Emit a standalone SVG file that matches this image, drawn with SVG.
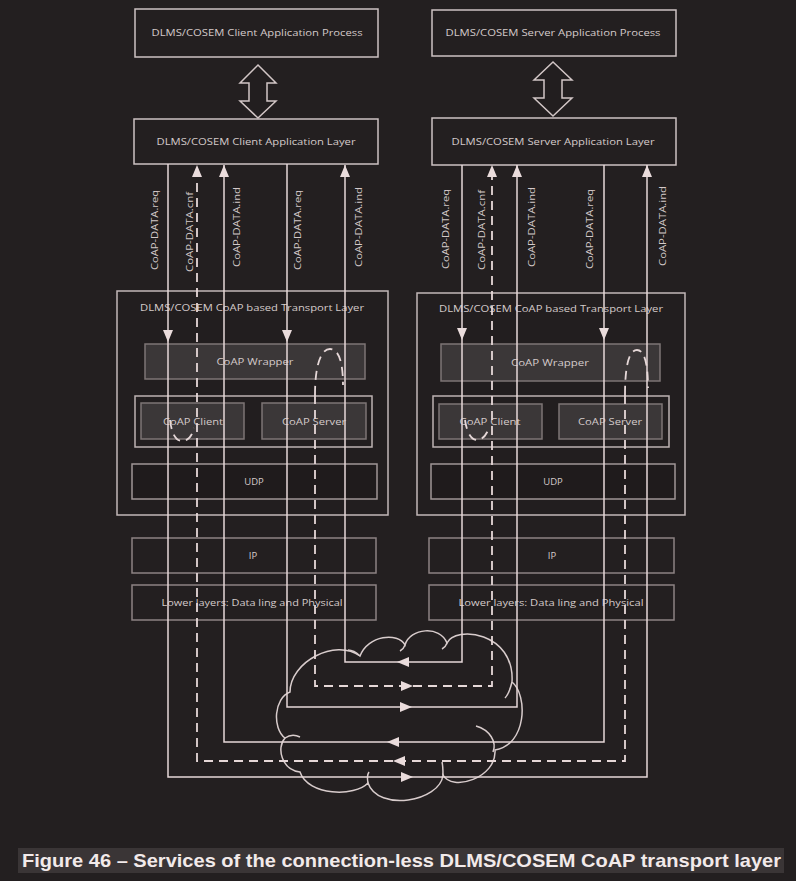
<svg xmlns="http://www.w3.org/2000/svg" width="796" height="881" viewBox="0 0 796 881">
<style>
.bx{fill:none;stroke:#cdc2c2;stroke-width:1.5}
.tl{fill:#221e1f;stroke:#c2b8b8;stroke-width:1.5}
.gr{fill:#3b3738;stroke:#7e7575;stroke-width:1.5}
.ct{fill:none;stroke:#bdb3b3;stroke-width:1.5}
.dk{fill:#1f1b1c;stroke:#a09696;stroke-width:1.5}
.ip{fill:none;stroke:#8d8383;stroke-width:1.5}
.t{font-family:"Open Sans","Liberation Sans",sans-serif;font-size:9.5px;fill:#d4caca;text-anchor:middle}
.lb{font-family:"Open Sans","Liberation Sans",sans-serif;font-size:9.5px;fill:#d4caca;text-anchor:middle}
.ln{fill:none;stroke:#e6d8d8;stroke-width:1.5}
.ds{fill:none;stroke:#e6d8d8;stroke-width:1.8;stroke-dasharray:9 6}
.dbl{fill:#221e1f;stroke:#d2c6c6;stroke-width:1.5}
.cl{fill:none;stroke:#d8cccc;stroke-width:1.5}
</style>
<defs>
<marker id="ah" viewBox="0 0 12 10" refX="12" refY="5" markerWidth="12" markerHeight="10" markerUnits="userSpaceOnUse" orient="auto">
<path d="M0,0 L12,5 L0,10 z" fill="#eadcdc"/>
</marker>
</defs>
<rect x="0" y="0" width="796" height="881" fill="#231f20"/>

<g id="client-process"><rect class="bx" x="135" y="9" width="243" height="48"/><text class="t" x="257" y="36" textLength="211" lengthAdjust="spacingAndGlyphs">DLMS/COSEM Client Application Process</text></g>
<g id="server-process"><rect class="bx" x="432" y="10" width="244" height="46"/><text class="t" x="553" y="36" textLength="215" lengthAdjust="spacingAndGlyphs">DLMS/COSEM Server Application Process</text></g>
<g id="client-dblarrow"><polygon class="dbl" points="258,65 276,83 267,83 267,101 276,101 258,118 240,101 249,101 249,83 240,83"/></g>
<g id="server-dblarrow"><polygon class="dbl" points="553,62 572,80 562,80 562,98 572,98 553,116 534,98 544,98 544,80 534,80"/></g>
<g id="client-al"><rect class="bx" x="134" y="119" width="244" height="45"/><text class="t" x="256" y="145" textLength="199" lengthAdjust="spacingAndGlyphs">DLMS/COSEM Client Application Layer</text></g>
<g id="server-al"><rect class="bx" x="432" y="118" width="244" height="47"/><text class="t" x="553" y="145" textLength="203" lengthAdjust="spacingAndGlyphs">DLMS/COSEM Server Application Layer</text></g>

<g id="client-transport">
<rect class="tl" x="117" y="291" width="271" height="224"/>
<text class="t" x="252" y="311" textLength="224" lengthAdjust="spacingAndGlyphs">DLMS/COSEM CoAP based Transport Layer</text>
</g>
<g id="client-wrapper"><rect class="gr" x="145" y="344" width="220" height="35"/><text class="t" x="255" y="365" textLength="77" lengthAdjust="spacingAndGlyphs">CoAP Wrapper</text></g>
<g id="client-coap-container"><rect class="ct" x="135" y="396" width="237" height="51"/></g>
<g id="client-coap-client"><rect class="gr" x="141" y="403" width="103" height="36"/><text class="t" x="193" y="425" textLength="60" lengthAdjust="spacingAndGlyphs">CoAP Client</text></g>
<g id="client-coap-server"><rect class="gr" x="262" y="403" width="104" height="36"/><text class="t" x="314" y="425" textLength="64" lengthAdjust="spacingAndGlyphs">CoAP Server</text></g>
<g id="client-udp"><rect class="dk" x="132" y="464" width="245" height="35"/><text class="t" x="254" y="485">UDP</text></g>
<g id="client-ip"><rect class="ip" x="132" y="538" width="244" height="35"/><text class="t" x="253" y="559">IP</text></g>
<g id="client-lower"><rect class="ip" x="132" y="585" width="244" height="35"/><text class="t" x="252" y="606" textLength="181" lengthAdjust="spacingAndGlyphs">Lower layers: Data ling and Physical</text></g>

<g id="server-transport">
<rect class="tl" x="417" y="293" width="268" height="222"/>
<text class="t" x="551" y="312" textLength="224" lengthAdjust="spacingAndGlyphs">DLMS/COSEM CoAP based Transport Layer</text>
</g>
<g id="server-wrapper"><rect class="gr" x="441" y="344" width="219" height="37"/><text class="t" x="550" y="366" textLength="78" lengthAdjust="spacingAndGlyphs">CoAP Wrapper</text></g>
<g id="server-coap-container"><rect class="ct" x="433" y="396" width="236" height="51"/></g>
<g id="server-coap-client"><rect class="gr" x="439" y="404" width="103" height="35"/><text class="t" x="490" y="425" textLength="61" lengthAdjust="spacingAndGlyphs">CoAP Client</text></g>
<g id="server-coap-server"><rect class="gr" x="559" y="404" width="103" height="35"/><text class="t" x="610" y="425" textLength="64" lengthAdjust="spacingAndGlyphs">CoAP Server</text></g>
<g id="server-udp"><rect class="dk" x="431" y="464" width="244" height="35"/><text class="t" x="553" y="485">UDP</text></g>
<g id="server-ip"><rect class="ip" x="429" y="538" width="245" height="35"/><text class="t" x="552" y="559">IP</text></g>
<g id="server-lower"><rect class="ip" x="429" y="585" width="245" height="35"/><text class="t" x="551" y="606" textLength="185" lengthAdjust="spacingAndGlyphs">Lower layers: Data ling and Physical</text></g>

<g id="cloud">
<path class="cl" d="M285,738 C272,728 274,698 290,692 C290,662 335,638 360,656 C368,635 398,632 405,645 C410,628 440,625 447,643 C455,625 515,632 512,682 C528,695 527,745 495,750 C497,778 452,792 443,775 C440,802 378,812 368,783 C355,797 308,796 300,772 C282,770 276,748 285,738 Z"/>
<path class="cl" d="M285,738 Q292,733 300,737"/>
<path class="cl" d="M476,726 C490,730 497,742 493,752"/>
<path class="cl" d="M443,775 C443,770 443,766 442,762"/>
<path class="cl" d="M368,783 C367,778 367,775 369,772"/>
<path class="cl" d="M512,682 C510,690 508,695 505,698"/>
<path class="cl" d="M360,656 C356,652 352,650 348,650"/>
<path class="cl" d="M405,645 C404,648 402,650 400,651"/>
<path class="cl" d="M447,643 C446,646 444,648 442,649"/>
</g>

<g id="labels">
<text class="lb" transform="translate(158,230) rotate(-90)" textLength="80" lengthAdjust="spacingAndGlyphs">CoAP-DATA.req</text>
<text class="lb" transform="translate(193,232) rotate(-90)" textLength="80" lengthAdjust="spacingAndGlyphs">CoAP-DATA.cnf</text>
<text class="lb" transform="translate(240,227) rotate(-90)" textLength="80" lengthAdjust="spacingAndGlyphs">CoAP-DATA.ind</text>
<text class="lb" transform="translate(301,230) rotate(-90)" textLength="80" lengthAdjust="spacingAndGlyphs">CoAP-DATA.req</text>
<text class="lb" transform="translate(362,227) rotate(-90)" textLength="80" lengthAdjust="spacingAndGlyphs">CoAP-DATA.ind</text>
<text class="lb" transform="translate(449,229) rotate(-90)" textLength="80" lengthAdjust="spacingAndGlyphs">CoAP-DATA.req</text>
<text class="lb" transform="translate(485,230) rotate(-90)" textLength="80" lengthAdjust="spacingAndGlyphs">CoAP-DATA.cnf</text>
<text class="lb" transform="translate(535,227) rotate(-90)" textLength="80" lengthAdjust="spacingAndGlyphs">CoAP-DATA.ind</text>
<text class="lb" transform="translate(593,229) rotate(-90)" textLength="80" lengthAdjust="spacingAndGlyphs">CoAP-DATA.req</text>
<text class="lb" transform="translate(666,226) rotate(-90)" textLength="80" lengthAdjust="spacingAndGlyphs">CoAP-DATA.ind</text>
</g>

<g id="connectors">
<path class="ln" d="M168,164 V342" marker-end="url(#ah)"/>
<path class="ln" d="M168,342 V777 H413" marker-end="url(#ah)"/>
<path class="ln" d="M413,777 H647 V165" marker-end="url(#ah)"/>
<path class="ln" d="M604,165 V340" marker-end="url(#ah)"/>
<path class="ln" d="M604,340 V742 H387" marker-end="url(#ah)"/>
<path class="ln" d="M387,742 H224 V165" marker-end="url(#ah)"/>
<path class="ln" d="M462,165 V340" marker-end="url(#ah)"/>
<path class="ln" d="M462,340 V662 H397" marker-end="url(#ah)"/>
<path class="ln" d="M397,662 H345 V165" marker-end="url(#ah)"/>
<path class="ln" d="M287,164 V342" marker-end="url(#ah)"/>
<path class="ln" d="M287,342 V707 H412" marker-end="url(#ah)"/>
<path class="ln" d="M412,707 H517 V165" marker-end="url(#ah)"/>
<path class="ds" d="M625,395 V761 H393" marker-end="url(#ah)"/>
<path class="ds" d="M393,761 H197 V165" marker-end="url(#ah)"/>
<path class="ds" d="M315,395 V686 H413" marker-end="url(#ah)"/>
<path class="ds" d="M413,686 H492 V165" marker-end="url(#ah)"/>
<path class="ds" d="M315,395 C315,362 322,349 330,349 C338,349 343,360 343,385"/>
<path class="ds" d="M170,420 C172,436 177,441 182,441 C188,441 192,436 194,428"/>
<path class="ds" d="M625,395 C625,362 630,350 637,350 C644,350 648,362 648,388"/>
<path class="ds" d="M465,420 C467,434 472,440 477,440 C482,440 486,436 489,428"/>
</g>

<g id="caption">
<rect x="18" y="848" width="766" height="25" fill="#3a3536"/>
<text x="22" y="867" font-family="'Liberation Sans',Arial,sans-serif" font-weight="bold" font-size="18.5" fill="#f2eaea" textLength="759" lengthAdjust="spacingAndGlyphs">Figure 46 – Services of the connection-less DLMS/COSEM CoAP transport layer</text>
</g>
</svg>
